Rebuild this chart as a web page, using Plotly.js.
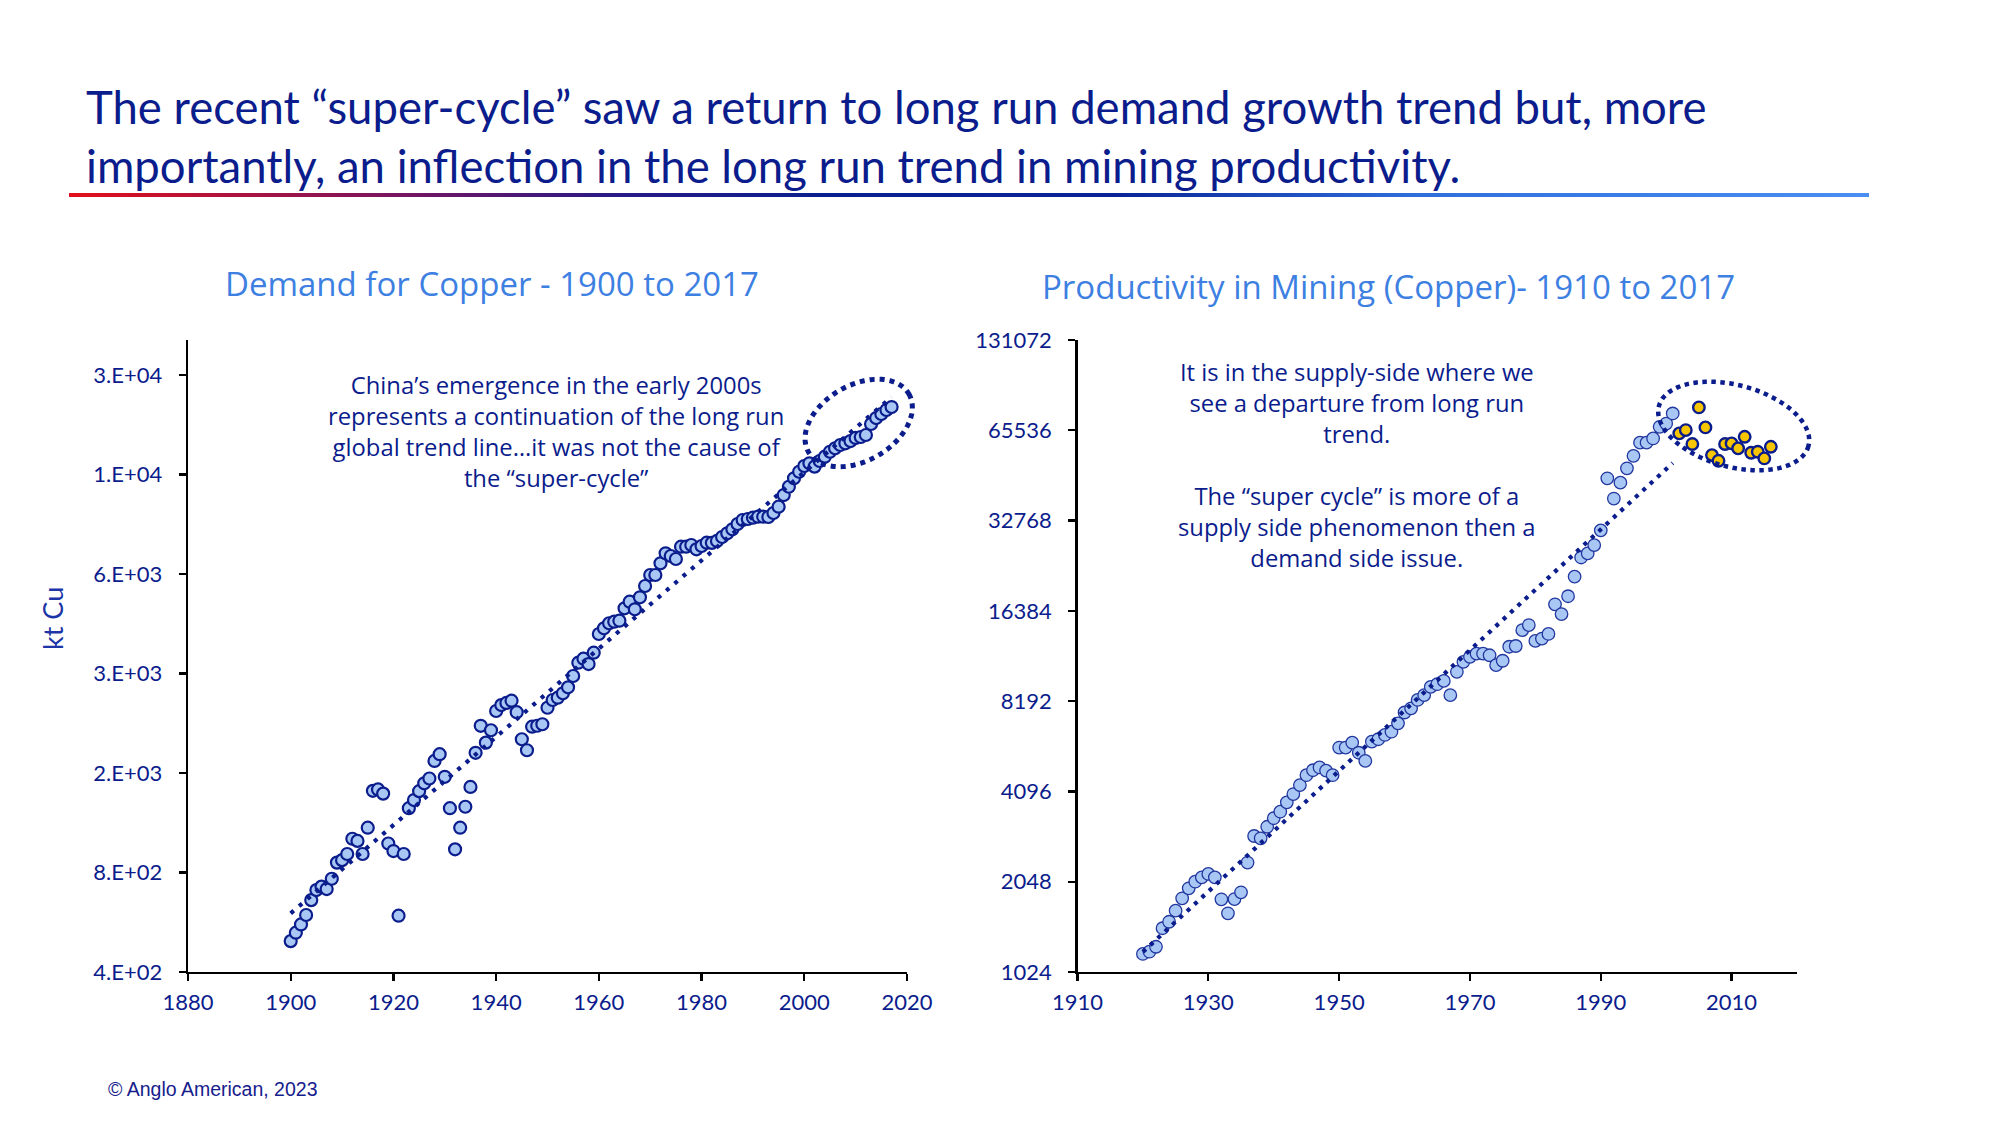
<!DOCTYPE html>
<html><head><meta charset="utf-8">
<script src="https://cdn.plot.ly/plotly-3.0.1.min.js"></script>
<style>
html,body{margin:0;padding:0;background:#fff;}
#wrap{position:relative;width:2000px;height:1125px;overflow:hidden;}
#chart{position:absolute;left:0;top:0;width:2000px;height:1125px;}
#rule{position:absolute;left:69px;top:193px;width:1800px;height:4px;
background:linear-gradient(to right,#e2101b 0%,#7a1560 18%,#2a1a86 30%,#0a1f8f 42%,#0a2496 58%,#2f6fdc 75%,#4a8ef2 100%);}
</style></head><body>
<div id="wrap"><div id="chart"></div><div id="rule"></div></div>
<script>
// ---------------- DATA ----------------
const demandYears = [1900,1901,1902,1903,1904,1905,1906,1907,1908,1909,1910,1911,1912,1913,1914,1915,1916,1917,1918,1919,
1920,1921,1922,1923,1924,1925,1926,1927,1928,1929,1930,1931,1932,1933,1934,1935,1936,1937,1938,1939,
1940,1941,1942,1943,1944,1945,1946,1947,1948,1949,1950,1951,1952,1953,1954,1955,1956,1957,1958,1959,
1960,1961,1962,1963,1964,1965,1966,1967,1968,1969,1970,1971,1972,1973,1974,1975,1976,1977,1978,1979,
1980,1981,1982,1983,1984,1985,1986,1987,1988,1989,1990,1991,1992,1993,1994,1995,1996,1997,1998,1999,
2000,2001,2002,2003,2004,2005,2006,2007,2008,2009,2010,2011,2012,2013,2014,2015,2016,2017];
const demandKt = [496,526,557,595,660,708,725,713,766,857,872,910,1012,997,910,1093,1413,1427,1386,979,
929,592,910,1252,1325,1410,1489,1540,1740,1824,1558,1252,940,1093,1265,1452,1842,2223,1977,2155,
2464,2568,2607,2648,2444,2024,1875,2209,2224,2247,2521,2661,2704,2788,2906,3145,3450,3547,3418,3699,
4214,4384,4541,4591,4623,5039,5277,5005,5441,5886,6355,6355,6895,7392,7255,7105,7740,7740,7832,7602,
7780,7961,7950,8057,8282,8498,8737,9067,9323,9388,9475,9540,9540,9520,9790,10227,11095,11755,12463,13050,
13580,13840,13520,14063,14492,15000,15360,15720,15905,16160,16510,16620,16856,18200,18970,19510,20060,20480];
const demandTrendYears = [1900, 2017];
const demandTrendKt = [602, 21950];

const prodYears = [1920,1921,1922,1923,1924,1925,1926,1927,1928,1929,1930,1931,1932,1933,1934,1935,1936,1937,1938,1939,
1940,1941,1942,1943,1944,1945,1946,1947,1948,1949,1950,1951,1952,1953,1954,1955,1956,1957,1958,1959,
1960,1961,1962,1963,1964,1965,1966,1967,1968,1969,1970,1971,1972,1973,1974,1975,1976,1977,1978,1979,
1980,1981,1982,1983,1984,1985,1986,1987,1988,1989,1990,1991,1992,1993,1994,1995,1996,1997,1998,1999,
2000,2001];
const prodValues = [1176,1197,1243,1433,1506,1640,1803,1947,2048,2118,2174,2118,1789,1607,1793,1888,2372,2909,2858,3123,
3334,3506,3766,4014,4300,4640,4820,4925,4806,4640,5736,5736,5958,5513,5180,6004,6115,6320,6480,6908,
7508,7750,8266,8579,9143,9330,9570,8579,10260,11080,11510,11800,11800,11650,10800,11170,12440,12510,14130,14690,
13010,13240,13720,17230,15980,18330,21310,24680,25470,27140,30400,45330,38800,43850,48950,53860,59600,59600,61560,67300,
69020,74560];
const superCycleYears = [2002,2003,2004,2005,2006,2007,2008,2009,2010,2011,2012,2013,2014,2015,2016];
const superCycleValues = [64000,65640,58960,78120,67000,54170,51850,58960,59260,57050,62330,55140,55560,52810,57730];
const prodTrendYears = [1920, 2001];
const prodTrendValues = [1195, 50980];

const demandXTicks = [1880,1900,1920,1940,1960,1980,2000,2020];
const demandYTicks = [400,800,1600,3200,6400,12800,25600];
const demandYTickText = ['4.E+02','8.E+02','2.E+03','3.E+03','6.E+03','1.E+04','3.E+04'];
const prodXTicks = [1910,1930,1950,1970,1990,2010];
const prodYTicks = [1024,2048,4096,8192,16384,32768,65536,131072];
const prodYTickText = ['1024','2048','4096','8192','16384','32768','65536','131072'];

const titleText = 'The recent “super-cycle” saw a return to long run demand growth trend but, more<br>importantly, an inflection in the long run trend in mining productivity.';
const leftSubtitle = 'Demand for Copper - 1900 to 2017';
const rightSubtitle = 'Productivity in Mining (Copper)- 1910 to 2017';
const leftNote = 'China’s emergence in the early 2000s<br>represents a continuation of the long run<br>global trend line…it was not the cause of<br>the “super-cycle”';
const rightNote = 'It is in the supply-side where we<br>see a departure from long run<br>trend.<br> <br>The “super cycle” is more of a<br>supply side phenomenon then a<br>demand side issue.';
const yTitleLeft = 'kt Cu';
const footer = '© Anglo American, 2023';

// ---------------- STYLE / LAYOUT ----------------
const W = 2000, H = 1125;
const px = x => x / W, py = y => 1 - y / H;
const NAVY = '#0b1c8c', LIGHT = '#a9c7f4', SUB = '#3d80e2', YEL = '#f7c600';
const FONT = 'Lato, "Open Sans", sans-serif';
const FONT2 = '"Open Sans", Lato, sans-serif';
const tickFont = {family: FONT, size: 22, color: NAVY};

function axisBase() {
  return {showline: true, linecolor: '#000', linewidth: 2.3, ticks: 'outside', ticklen: 7, tickwidth: 2.3,
          tickcolor: '#000', showgrid: false, zeroline: false, tickfont: tickFont, fixedrange: true};
}
function ellipsePath(cx, cy, a, b, deg) {
  const t = deg * Math.PI / 180; let d = '';
  for (let i = 0; i <= 96; i++) {
    const u = i / 96 * 2 * Math.PI;
    const ex = a * Math.cos(u), ey = b * Math.sin(u);
    const X = cx + ex * Math.cos(t) - ey * Math.sin(t);
    const Y = cy + ex * Math.sin(t) + ey * Math.cos(t);
    d += (i ? 'L' : 'M') + px(X).toFixed(5) + ',' + py(Y).toFixed(5);
  }
  return d + 'Z';
}

const traces = [
  {x: demandYears, y: demandKt, xaxis: 'x', yaxis: 'y', type: 'scatter', mode: 'markers',
   marker: {size: 12, color: LIGHT, line: {color: NAVY, width: 2.2}}},
  {x: demandTrendYears, y: demandTrendKt, xaxis: 'x', yaxis: 'y', type: 'scatter', mode: 'lines',
   line: {color: NAVY, width: 4.2, dash: '4px,7px'}},
  {x: prodYears, y: prodValues, xaxis: 'x2', yaxis: 'y2', type: 'scatter', mode: 'markers',
   marker: {size: 12.5, color: LIGHT, line: {color: '#22379f', width: 1.3}}},
  {x: superCycleYears, y: superCycleValues, xaxis: 'x2', yaxis: 'y2', type: 'scatter', mode: 'markers',
   marker: {size: 11.5, color: YEL, line: {color: NAVY, width: 2.4}}},
  {x: prodTrendYears, y: prodTrendValues, xaxis: 'x2', yaxis: 'y2', type: 'scatter', mode: 'lines',
   line: {color: NAVY, width: 4.2, dash: '4px,6px'}}
];

const yDom = [py(972), py(340)];
const layout = {
  width: W, height: H, margin: {l: 0, r: 0, t: 0, b: 0},
  paper_bgcolor: '#fff', plot_bgcolor: 'rgba(0,0,0,0)', showlegend: false,
  font: {family: FONT, color: NAVY},
  xaxis: Object.assign(axisBase(), {domain: [px(188), px(907)], range: [1880, 2020], tickvals: demandXTicks,
    anchor: 'y', ticklabelstandoff: 2}),
  yaxis: Object.assign(axisBase(), {domain: yDom, type: 'log', range: [Math.log10(400), Math.log10(32670)],
    tickvals: demandYTicks, ticktext: demandYTickText, anchor: 'x', ticklabelstandoff: 12}),
  xaxis2: Object.assign(axisBase(), {domain: [px(1077.5), px(1797)], range: [1910, 2020], tickvals: prodXTicks,
    anchor: 'y2', ticklabelstandoff: 2}),
  yaxis2: Object.assign(axisBase(), {domain: yDom, type: 'log', range: [Math.log10(1024), Math.log10(131072)],
    tickvals: prodYTicks, ticktext: prodYTickText, anchor: 'x2', ticklabelstandoff: 12}),
  annotations: [
    {text: titleText, x: px(84), y: py(135.5), xanchor: 'left', yanchor: 'middle', align: 'left', font: {family: FONT, size: 45.5, color: NAVY}},
    {text: leftSubtitle, x: px(492), y: py(283), xanchor: 'center', yanchor: 'middle', font: {family: FONT2, size: 33, color: SUB}},
    {text: rightSubtitle, x: px(1388), y: py(286), xanchor: 'center', yanchor: 'middle', font: {family: FONT2, size: 33, color: SUB}},
    {text: leftNote, x: px(556), y: py(431), xanchor: 'center', yanchor: 'middle', align: 'center', font: {family: FONT2, size: 23.8, color: NAVY}},
    {text: rightNote, x: px(1357), y: py(465), xanchor: 'center', yanchor: 'middle', align: 'center', font: {family: FONT2, size: 23.8, color: NAVY}},
    {text: yTitleLeft, x: px(53), y: py(619), xanchor: 'center', yanchor: 'middle', textangle: -90, font: {family: FONT, size: 27, color: '#1d35a6'}},
    {text: footer, x: px(106), y: py(1089), xanchor: 'left', yanchor: 'middle', font: {family: '"Liberation Sans", Arial, sans-serif', size: 19.5, color: '#16208c'}}
  ].map(a => Object.assign({xref: 'paper', yref: 'paper', showarrow: false}, a)),
  shapes: [
    {type: 'path', xref: 'paper', yref: 'paper', path: ellipsePath(858.7, 423, 58, 37.8, -30),
     line: {color: NAVY, width: 5, dash: '5px,5px'}, fillcolor: 'rgba(0,0,0,0)'},
    {type: 'path', xref: 'paper', yref: 'paper', path: ellipsePath(1733.7, 426, 77.4, 40.9, 15),
     line: {color: NAVY, width: 4.5, dash: '4.5px,4.5px'}, fillcolor: 'rgba(0,0,0,0)'}
  ]
};

Plotly.newPlot('chart', traces, layout, {displayModeBar: false, staticPlot: true});
</script>
</body></html>
